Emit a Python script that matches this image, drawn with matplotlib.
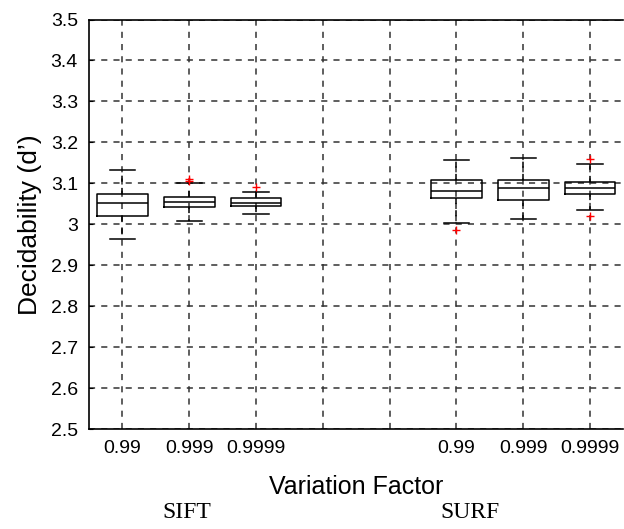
import matplotlib
matplotlib.use("Agg")
import matplotlib.pyplot as plt

# ---- data ----
groups = ["SIFT", "SURF"]
factor_labels = ["0.99", "0.999", "0.9999"]
positions = [1, 2, 3, 6, 7, 8]
tick_labels = ["0.99", "0.999", "0.9999", "", "", "0.99", "0.999", "0.9999"]

whislo = [2.963, 3.009, 3.025, 3.004, 3.012, 3.034]
q1     = [3.021, 3.042, 3.045, 3.063, 3.060, 3.073]
med    = [3.052, 3.055, 3.053, 3.082, 3.088, 3.088]
q3     = [3.073, 3.066, 3.064, 3.109, 3.109, 3.103]
whishi = [3.133, 3.101, 3.078, 3.158, 3.161, 3.146]
fliers = [[], [3.110, 3.105], [3.092], [2.985], [], [3.159, 3.021]]

yticks = [2.5, 2.6, 2.7, 2.8, 2.9, 3.0, 3.1, 3.2, 3.3, 3.4, 3.5]
ytick_labels = ["2.5", "2.6", "2.7", "2.8", "2.9", "3", "3.1", "3.2", "3.3", "3.4", "3.5"]

plt.rcParams["font.family"] = ["Liberation Sans", "DejaVu Sans"]

fig = plt.figure(figsize=(6.24, 5.29), dpi=100)
ax = fig.add_axes([89 / 624, 1 - 429 / 529, (623.5 - 89) / 624, (429 - 19.5) / 529])

stats = []
for i in range(len(positions)):
    stats.append(dict(whislo=whislo[i], q1=q1[i], med=med[i], q3=q3[i],
                      whishi=whishi[i], fliers=fliers[i]))

ax.bxp(stats, positions=positions, widths=0.76, showfliers=True,
       boxprops=dict(color="black", linewidth=1.1),
       medianprops=dict(color="black", linewidth=1.1),
       whiskerprops=dict(color="black", linewidth=1.1, linestyle=(0, (4, 4))),
       capprops=dict(color="black", linewidth=1.1),
       flierprops=dict(marker="+", markeredgecolor="red", markersize=6,
                       linestyle="none"),
       manage_ticks=False)

ax.set_xlim(0.5, 8.5)
ax.set_ylim(2.5, 3.5)
ax.set_xticks(range(1, 9))
ax.set_xticklabels(tick_labels, fontsize=14)
ax.set_yticks(yticks)
ax.set_yticklabels(ytick_labels, fontsize=14)
ax.tick_params(direction="in", length=3, width=0.8, pad=8)
ax.tick_params(axis="x", length=0)

ax.grid(True, color="#333333", linestyle=(0, (4, 4)), linewidth=1.1)
ax.set_axisbelow(True)
for s in ax.spines.values():
    s.set_linewidth(1.2)
ax.spines["right"].set_visible(False)

ax.set_ylabel("Decidability (d\u2019)", fontsize=19, labelpad=6)
ax.set_xlabel("Variation Factor", fontsize=18, labelpad=13)

fig.text(187 / 624, 1 - 513 / 529, groups[0], ha="center", va="center",
         fontsize=17, family=["Liberation Serif", "DejaVu Serif"])
fig.text(470 / 624, 1 - 513 / 529, groups[1], ha="center", va="center",
         fontsize=17, family=["Liberation Serif", "DejaVu Serif"])

fig.savefig("out.png", dpi=100)
